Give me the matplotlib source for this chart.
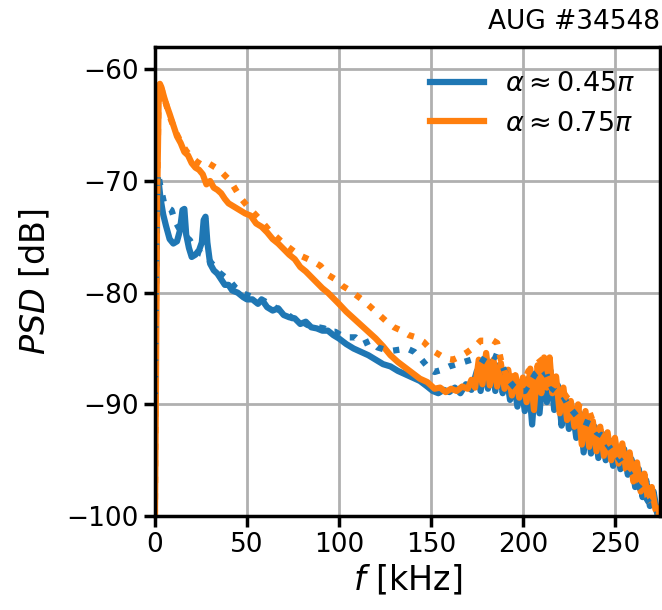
import numpy as np
import matplotlib
matplotlib.use("Agg")
import matplotlib.pyplot as plt

# PSD (f in kHz, PSD in dB)
f_blue = [0, 0.5, 1.2, 2, 3, 4.5, 6, 8, 10, 12, 13.5, 15, 16, 17, 18.5, 20, 22, 24, 25.5, 26.5,
          27.5, 28.5, 30, 32, 34, 36, 38, 40, 42, 45, 48, 50, 53, 56, 58, 61, 64, 67, 70, 73,
          76, 79, 82, 85, 88, 91, 94, 97, 100, 104, 108, 112, 116, 120, 124, 128, 132, 136, 140, 144,
          148, 151, 154, 157, 160, 163, 166, 169, 172, 175, 177, 179, 181, 183, 185, 187, 189, 191, 193, 195,
          197, 199, 201, 203, 205, 207, 209, 211, 213, 215, 217, 219, 221, 223, 225, 227, 229, 231, 233, 235,
          237, 239, 241, 243, 245, 247, 249, 251, 253, 255, 257, 259, 261, 263, 265, 267, 269, 271, 273, 275]
psd_blue = [-89.5, -80, -70.3, -70.0, -71.5, -73.0, -74.0, -75.2, -75.6, -75.4, -74.5, -72.6, -72.5, -74.8, -76.0, -76.8, -76.6, -76.2, -75.5, -73.5,
            -73.2, -75.5, -77.4, -78.0, -78.3, -78.8, -79.3, -79.3, -79.8, -80.0, -80.4, -80.6, -80.6, -81.0, -80.6, -81.3, -81.6, -81.4, -82.0, -82.2,
            -82.3, -82.8, -82.6, -83.1, -83.2, -83.4, -83.4, -83.8, -84.1, -84.6, -85.0, -85.3, -85.6, -86.0, -86.4, -86.6, -87.0, -87.3, -87.6, -87.9,
            -88.4, -88.8, -89.0, -88.7, -88.9, -88.5, -89.0, -88.2, -88.7, -87.0, -88.8, -86.6, -88.6, -86.2, -88.8, -86.5, -89.0, -87.3, -89.6, -87.8,
            -90.2, -88.0, -90.6, -87.7, -91.8, -87.3, -90.8, -86.9, -89.8, -87.0, -90.5, -88.3, -91.9, -89.4, -92.2, -90.5, -93.0, -90.8, -94.3, -91.4,
            -94.4, -92.0, -94.8, -92.6, -95.0, -93.2, -95.5, -93.8, -95.8, -94.0, -96.3, -94.9, -97.4, -95.8, -98.3, -96.8, -99.1, -97.8, -99.8, -99.5]

f_orange = [0, 0.5, 1.2, 2, 2.7, 3.5, 5, 6.5, 8, 10, 12, 14, 16, 18, 20, 22, 24, 26, 28, 30,
            32, 34, 36, 38, 40, 43, 46, 49, 52, 55, 58, 61, 64, 67, 70, 73, 76, 79, 82, 85,
            88, 91, 94, 97, 100, 104, 108, 112, 116, 120, 124, 128, 132, 136, 140, 144, 148, 152, 155, 158,
            161, 164, 167, 170, 172, 174, 176, 178, 180, 182, 184, 186, 188, 190, 192, 194, 196, 198, 200, 202,
            204, 206, 208, 210, 211.5, 213, 214.5, 216, 218, 220, 222, 224, 226, 228, 230, 232, 234, 236, 238, 240,
            242, 244, 246, 248, 250, 252, 254, 256, 258, 260, 262, 264, 266, 268, 270, 272, 274]
psd_orange = [-100.5, -90, -72, -63, -61.3, -61.6, -62.5, -63.3, -64.0, -65.0, -66.0, -66.6, -67.4, -67.7, -68.4, -68.8, -69.0, -69.4, -70.3, -70.0,
              -70.6, -70.8, -71.1, -71.6, -72.0, -72.3, -72.6, -72.9, -73.1, -73.8, -74.1, -74.6, -75.2, -75.6, -76.1, -76.6, -77.0, -77.7, -78.1, -78.6,
              -79.1, -79.6, -80.0, -80.5, -81.0, -81.7, -82.3, -82.9, -83.5, -84.1, -84.8, -85.6, -86.2, -86.7, -87.2, -87.7, -88.0, -88.6, -88.5, -88.9,
              -88.6, -88.8, -88.4, -88.6, -87.8, -88.5, -86.0, -88.2, -85.4, -88.3, -86.0, -88.4, -86.3, -88.6, -86.9, -89.2, -87.4, -89.4, -87.6, -89.8,
              -86.8, -90.5, -86.5, -89.0, -85.8, -88.5, -85.8, -89.0, -87.5, -90.8, -88.5, -91.4, -89.7, -92.0, -90.0, -93.6, -90.6, -93.8, -91.5, -94.2,
              -92.0, -94.6, -92.5, -95.0, -93.0, -95.3, -93.5, -95.8, -94.3, -96.9, -95.2, -97.8, -96.2, -98.6, -97.4, -99.4, -99.8]

f_blue_dot = [0, 0.8, 1.7, 3, 5, 7, 9, 11, 13, 15, 17, 19, 21, 23, 25, 27, 29, 32, 35, 38,
              41, 44, 47, 50, 53, 56, 59, 62, 65, 68, 71, 74, 77, 80, 83, 86, 89, 92, 95, 98,
              101, 105, 109, 113, 117, 121, 125, 129, 133, 137, 141, 145, 149, 152, 156, 160, 164, 168, 172, 176,
              180, 183, 186, 189, 192, 195, 198, 201, 204, 207, 210, 213, 216, 219, 222, 225, 228, 231, 234, 237,
              240, 243, 246, 249, 252, 255, 258, 261, 264, 267, 270, 273]
psd_blue_dot = [-89.5, -75, -69.3, -70.5, -72.0, -72.4, -72.6, -73.6, -74.2, -74.5, -75.0, -75.3, -75.9, -76.0, -76.5, -76.6, -77.0, -77.6, -78.2, -78.6,
                -79.0, -79.6, -80.0, -80.2, -80.4, -80.6, -80.7, -81.0, -81.3, -81.6, -81.8, -82.2, -82.5, -82.6, -82.9, -83.0, -83.1, -83.2, -83.5, -83.5,
                -83.8, -84.0, -84.0, -84.6, -84.3, -84.9, -85.1, -85.2, -85.1, -85.0, -85.3, -86.0, -86.8, -87.1, -86.9, -86.6, -86.4, -86.2, -86.0, -85.8,
                -86.2, -85.6, -85.8, -86.6, -87.8, -88.4, -88.8, -88.8, -88.0, -87.2, -86.8, -87.4, -88.6, -89.0, -89.3, -90.2, -90.8, -91.4, -91.6, -91.8,
                -92.5, -92.8, -93.6, -94.3, -94.8, -95.5, -96.2, -97.0, -97.6, -98.4, -99.2, -99.6]

f_orange_dot = [0, 0.8, 2, 3, 5, 8, 11, 14, 17, 20, 23, 26, 29, 32, 35, 38, 41, 44, 47, 50,
                54, 58, 62, 66, 70, 74, 78, 82, 86, 90, 94, 98, 102, 106, 110, 114, 118, 122, 126, 130,
                134, 138, 142, 146, 150, 154, 158, 162, 166, 170, 174, 177, 180, 183, 186, 188, 191, 194, 197, 200,
                203, 205, 208, 211, 213, 215, 218, 221, 224, 227, 230, 233, 236, 239, 242, 245, 248, 251, 254, 257,
                260, 263, 266, 269, 272, 275]
psd_orange_dot = [-100, -75, -62.5, -61.5, -62.5, -64.2, -65.5, -66.5, -67.3, -67.9, -68.3, -68.6, -68.4, -68.7, -69.0, -69.5, -70.0, -70.8, -71.6, -72.2,
                  -72.9, -73.6, -74.4, -75.0, -75.6, -76.1, -76.6, -76.9, -77.2, -77.6, -78.4, -78.8, -79.4, -79.8, -80.3, -80.8, -81.4, -82.0, -82.6, -83.1,
                  -83.4, -83.8, -84.0, -84.4, -85.1, -85.5, -85.9, -86.0, -85.7, -85.3, -84.8, -84.3, -84.3, -84.2, -84.5, -86.0, -87.5, -87.0, -88.5, -88.3,
                  -87.0, -86.9, -86.3, -85.9, -86.8, -88.0, -88.3, -88.7, -89.4, -89.8, -90.2, -90.3, -90.6, -92.0, -92.3, -93.0, -93.7, -94.2, -94.8, -95.5,
                  -96.0, -96.5, -97.2, -98.3, -99.1, -99.8]

labels = [r'$\alpha \approx 0.45\pi$', r'$\alpha \approx 0.75\pi$']
blue = '#1f77b4'
orange = '#ff7f0e'

plt.rcParams['font.family'] = ['DejaVu Sans']
plt.rcParams['mathtext.fontset'] = 'dejavusans'

fig = plt.figure(figsize=(6.62, 6.10), dpi=100)
ax = fig.add_axes([0.234, 0.154, 0.763, 0.769])

lw = 4.5
ax.plot(f_blue, psd_blue, color=blue, lw=lw, label=labels[0])
ax.plot(f_orange, psd_orange, color=orange, lw=lw, label=labels[1])
ax.plot(f_blue_dot, psd_blue_dot, color=blue, lw=lw, ls=':')
ax.plot(f_orange_dot, psd_orange_dot, color=orange, lw=lw, ls=':')

ax.set_xlim(0, 274.5)
ax.set_ylim(-100, -58)
ax.set_xticks([0, 50, 100, 150, 200, 250])
ax.set_yticks([-100, -90, -80, -70, -60])
ax.grid(True, color='#b0b0b0', lw=2)
ax.set_axisbelow(True)

for s in ax.spines.values():
    s.set_linewidth(2.5)
ax.tick_params(labelsize=19, width=2.5, length=8)

ax.set_xlabel(r'$f$ [kHz]', fontsize=24)
ax.set_ylabel(r'$PSD$ [dB]', fontsize=24, labelpad=10)
ax.set_title('AUG #34548', loc='right', fontsize=19, pad=13)

ax.legend(loc='upper right', frameon=False, fontsize=19.5, handlelength=2.0)

fig.savefig('out.png', dpi=100)
